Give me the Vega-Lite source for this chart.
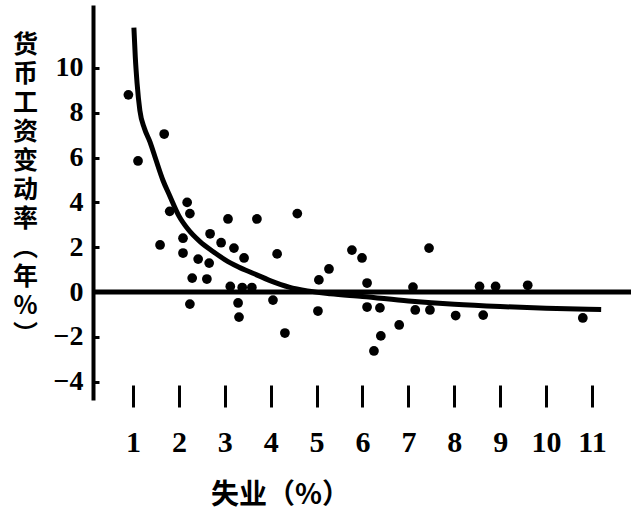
{
  "$schema": "https://vega.github.io/schema/vega-lite/v6.json",
  "width": 538,
  "height": 395,
  "autosize": "none",
  "padding": {"left": 93, "top": 5, "right": 0, "bottom": 121},
  "background": "white",
  "config": {"view": {"stroke": null}},
  "datasets": {
    "zero": [{"w": 0}],
    "points": [
      {"u": 0.9, "w": 8.8}, {"u": 1.11, "w": 5.85}, {"u": 1.68, "w": 7.05},
      {"u": 2.18, "w": 4.0}, {"u": 2.24, "w": 3.5}, {"u": 1.8, "w": 3.6},
      {"u": 3.07, "w": 3.26}, {"u": 3.7, "w": 3.26}, {"u": 2.09, "w": 2.4},
      {"u": 1.59, "w": 2.1}, {"u": 2.68, "w": 2.6}, {"u": 2.92, "w": 2.2},
      {"u": 3.2, "w": 1.96}, {"u": 2.09, "w": 1.74}, {"u": 2.42, "w": 1.47},
      {"u": 2.66, "w": 1.29}, {"u": 3.42, "w": 1.52}, {"u": 4.14, "w": 1.7},
      {"u": 2.29, "w": 0.62}, {"u": 2.61, "w": 0.58}, {"u": 3.12, "w": 0.25},
      {"u": 3.38, "w": 0.2}, {"u": 3.59, "w": 0.2}, {"u": 2.24, "w": -0.54},
      {"u": 3.29, "w": -0.49}, {"u": 3.31, "w": -1.12}, {"u": 4.05, "w": -0.36},
      {"u": 4.31, "w": -1.83}, {"u": 4.58, "w": 3.5}, {"u": 5.77, "w": 1.87},
      {"u": 5.99, "w": 1.52}, {"u": 7.45, "w": 1.96}, {"u": 5.27, "w": 1.03},
      {"u": 5.05, "w": 0.54}, {"u": 6.1, "w": 0.4}, {"u": 7.1, "w": 0.22},
      {"u": 8.55, "w": 0.25}, {"u": 8.9, "w": 0.25}, {"u": 9.6, "w": 0.3},
      {"u": 5.03, "w": -0.85}, {"u": 6.1, "w": -0.67}, {"u": 6.38, "w": -0.71},
      {"u": 7.15, "w": -0.8}, {"u": 7.47, "w": -0.8}, {"u": 8.03, "w": -1.05},
      {"u": 8.63, "w": -1.03}, {"u": 10.8, "w": -1.16}, {"u": 6.8, "w": -1.47},
      {"u": 6.4, "w": -1.96}, {"u": 6.25, "w": -2.63}
    ],
    "curve": [
      {"u": 1.02, "w": 11.8}, {"u": 1.05, "w": 10.5}, {"u": 1.09, "w": 9.3},
      {"u": 1.15, "w": 8.1}, {"u": 1.25, "w": 7.3}, {"u": 1.37, "w": 6.7},
      {"u": 1.5, "w": 5.9}, {"u": 1.65, "w": 5.0}, {"u": 1.8, "w": 4.3},
      {"u": 2.0, "w": 3.4}, {"u": 2.2, "w": 2.8}, {"u": 2.46, "w": 2.25},
      {"u": 2.75, "w": 1.8}, {"u": 3.0, "w": 1.45}, {"u": 3.3, "w": 1.12},
      {"u": 3.6, "w": 0.85}, {"u": 4.0, "w": 0.5}, {"u": 4.4, "w": 0.22},
      {"u": 4.8, "w": 0.05}, {"u": 5.3, "w": -0.08}, {"u": 6.0, "w": -0.2},
      {"u": 7.0, "w": -0.4}, {"u": 8.0, "w": -0.55}, {"u": 9.0, "w": -0.65},
      {"u": 10.0, "w": -0.72}, {"u": 11.2, "w": -0.78}
    ]
  },
  "layer": [
    {
      "data": {"name": "zero"},
      "mark": {"type": "rule", "color": "black", "strokeWidth": 5},
      "encoding": {"y": {"field": "w", "type": "quantitative"}}
    },
    {
      "data": {"name": "curve"},
      "mark": {"type": "line", "color": "black", "strokeWidth": 5, "interpolate": "monotone"},
      "encoding": {
        "x": {"field": "u", "type": "quantitative"},
        "y": {"field": "w", "type": "quantitative"}
      }
    },
    {
      "data": {"name": "points"},
      "mark": {"type": "circle", "color": "black", "opacity": 1, "size": 95},
      "encoding": {
        "x": {
          "field": "u", "type": "quantitative",
          "scale": {"domain": [0.129, 11.85], "nice": false, "zero": false},
          "axis": {
            "values": [1, 2, 3, 4, 5, 6, 7, 8, 9, 10, 11],
            "domain": false, "grid": false,
            "offset": -15, "tickSize": 22, "tickWidth": 3, "tickColor": "black",
            "labelFont": "Liberation Serif", "labelFontSize": 30, "labelFontWeight": "bold",
            "labelColor": "black", "labelPadding": 20,
            "title": "失业（%）", "titleFont": "Noto Sans CJK SC", "titleFontSize": 28,
            "titleFontWeight": "bold", "titleColor": "black",
            "titleX": 187, "titleY": 110, "titleAlign": "center", "titleBaseline": "middle"
          }
        },
        "y": {
          "field": "w", "type": "quantitative",
          "scale": {"domain": [-4.82, 12.81], "nice": false, "zero": false},
          "axis": {
            "values": [-4, -2, 0, 2, 4, 6, 8, 10],
            "domain": true, "domainColor": "black", "domainWidth": 4,
            "grid": false, "tickSize": -6, "tickWidth": 3, "tickColor": "black",
            "labelFont": "Liberation Serif", "labelFontSize": 28, "labelFontWeight": "bold",
            "labelColor": "black", "labelPadding": 16,
            "title": ["货", "币", "工", "资", "变", "动", "率", "︵", "年", "%", "︶"],
            "titleFont": "Noto Sans CJK SC", "titleFontSize": 25, "titleFontWeight": "bold",
            "titleColor": "black", "titleAngle": 0, "titleLineHeight": 29,
            "titleX": -68, "titleY": 27, "titleAlign": "center", "titleBaseline": "top"
          }
        }
      }
    }
  ]
}
